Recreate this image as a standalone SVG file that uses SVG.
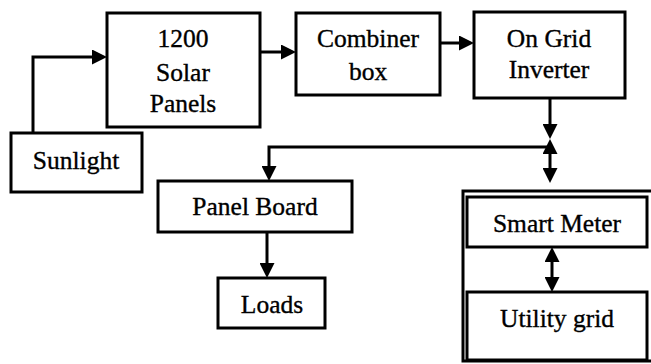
<svg xmlns="http://www.w3.org/2000/svg" width="651" height="364" viewBox="0 0 651 364">
<style>
  .box { fill: #fff; stroke: #000; stroke-width: 3; }
  .frame { fill: none; stroke: #000; stroke-width: 3; }
  .line { fill: none; stroke: #000; stroke-width: 3; }
  text { font-family: "Liberation Serif", "Times New Roman", serif; font-size: 25.5px; fill: #000; stroke: #000; stroke-width: 0.35; text-anchor: middle; }
</style>
<defs>
  <marker id="ah" viewBox="0 0 15 15" refX="0" refY="7.5" markerWidth="15" markerHeight="15" markerUnits="userSpaceOnUse" orient="auto-start-reverse">
    <path d="M0,0 L15,7.5 L0,15 Z" fill="#000"/>
  </marker>
</defs>
<rect width="651" height="364" fill="#fff"/>

<g id="grid-side">
  <path class="frame" d="M652,191 H463 V361 H652"/>
</g>

<g id="sunlight">
  <rect class="box" x="11" y="133" width="131" height="59"/>
  <text x="76" y="169">Sunlight</text>
</g>
<g id="solar-panels">
  <rect class="box" x="107" y="13" width="153" height="114"/>
  <text x="183" y="47">1200</text>
  <text x="183" y="81">Solar</text>
  <text x="183" y="112">Panels</text>
</g>
<g id="combiner-box">
  <rect class="box" x="296" y="13" width="144" height="82"/>
  <text x="368" y="47">Combiner</text>
  <text x="368" y="80">box</text>
</g>
<g id="inverter">
  <rect class="box" x="474" y="12" width="151" height="86"/>
  <text x="549" y="47">On Grid</text>
  <text x="549" y="78">Inverter</text>
</g>
<g id="panel-board">
  <rect class="box" x="158" y="181" width="194" height="51"/>
  <text x="255" y="215">Panel Board</text>
</g>
<g id="loads">
  <rect class="box" x="218" y="278" width="107" height="50"/>
  <text x="272" y="313">Loads</text>
</g>
<g id="smart-meter">
  <rect class="box" x="467" y="197" width="180" height="50"/>
  <text x="557" y="232">Smart Meter</text>
</g>
<g id="utility-grid">
  <rect class="box" x="467" y="292" width="180" height="68"/>
  <text x="557" y="327">Utility grid</text>
</g>

<g id="connectors">
  <path class="line" d="M33,133 V57 H92" marker-end="url(#ah)"/>
  <path class="line" d="M260,52 H281" marker-end="url(#ah)"/>
  <path class="line" d="M440,43 H459" marker-end="url(#ah)"/>
  <path class="line" d="M550,98 V124" marker-end="url(#ah)"/>
  <path class="line" d="M550,147 H269 V166" marker-end="url(#ah)"/>
  <path class="line" d="M550,154 V168" marker-start="url(#ah)" marker-end="url(#ah)"/>
  <path class="line" d="M267,232 V263" marker-end="url(#ah)"/>
  <path class="line" d="M552,262 V277" marker-start="url(#ah)" marker-end="url(#ah)"/>
</g>
</svg>
